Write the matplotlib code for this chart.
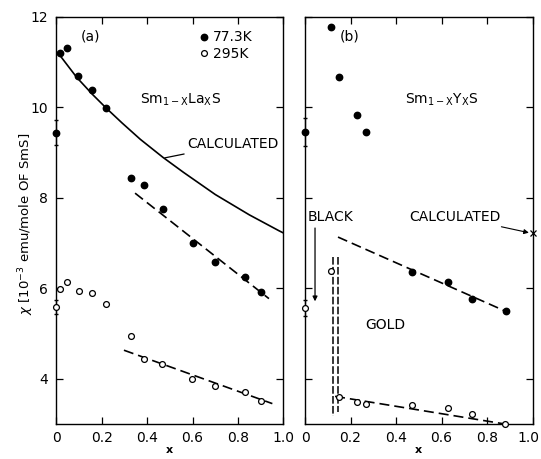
import numpy as np
import matplotlib
matplotlib.use('Agg')
import matplotlib.pyplot as plt
from matplotlib.lines import Line2D
from matplotlib.transforms import ScaledTranslation

plt.rcParams.update({'font.size': 10, 'font.family': 'DejaVu Sans',
                     'mathtext.fontset': 'dejavusans'})

# (a) Sm1-xLaxS
la_x_77 = [0.0, 0.016, 0.046, 0.094, 0.159, 0.218, 0.328, 0.388, 0.469, 0.60, 0.70, 0.83, 0.90]
la_y_77 = [9.44, 11.19, 11.30, 10.68, 10.37, 9.99, 8.43, 8.28, 7.74, 7.00, 6.59, 6.25, 5.91]
la_x_295 = [0.0, 0.016, 0.049, 0.099, 0.158, 0.218, 0.327, 0.388, 0.467, 0.597, 0.70, 0.829, 0.90]
la_y_295 = [5.58, 5.98, 6.13, 5.94, 5.89, 5.66, 4.95, 4.44, 4.33, 4.00, 3.85, 3.71, 3.50]
la_err = [0.28, 0.15]   # error bars on the x=0 (pure SmS) points

la_calc_x = [0.02, 0.09, 0.16, 0.22, 0.29, 0.37, 0.47, 0.56, 0.70, 0.85, 0.98, 1.0]
la_calc_y = [11.12, 10.66, 10.28, 9.98, 9.65, 9.29, 8.89, 8.56, 8.07, 7.62, 7.27, 7.22]

la_fit77_x = [0.347, 0.936]
la_fit77_y = [8.10, 5.77]
la_fit295_x = [0.298, 0.951]
la_fit295_y = [4.63, 3.45]

# (b) Sm1-xYxS
y_x_77 = [0.0, 0.115, 0.150, 0.230, 0.269, 0.470, 0.629, 0.736, 0.882]
y_y_77 = [9.45, 11.77, 10.66, 9.83, 9.45, 6.36, 6.13, 5.77, 5.49]
y_x_295 = [0.0, 0.115, 0.150, 0.230, 0.269, 0.470, 0.629, 0.736, 0.878]
y_y_295 = [5.56, 6.37, 3.59, 3.49, 3.44, 3.41, 3.36, 3.21, 3.00]
y_err = [0.30, 0.17]

y_fit77_x = [0.145, 0.882]
y_fit77_y = [7.13, 5.49]
y_fit295_x = [0.132, 0.878]
y_fit295_y = [3.61, 3.00]

# black/gold boundary (double dashed lines)
bound_x = [0.125, 0.144]
bound_top = [6.70, 6.70]
bound_bot = [3.17, 3.27]

y_calc = (1.0, 7.22)

xticks = [0, 0.2, 0.4, 0.6, 0.8, 1.0]
xticklabels = ['0', '0.2', '0.4', '0.6', '0.8', '1.0']
yticks = [4, 6, 8, 10, 12]

fig = plt.figure(figsize=(5.41, 4.59), dpi=100)
ax1 = fig.add_axes([0.1039, 0.0763, 0.4201, 0.8874])
ax2 = fig.add_axes([0.5638, 0.0763, 0.4205, 0.8874])

dash = (0, (6, 3))
ms_f = 4.6
ms_o = 4.2

for ax in (ax1, ax2):
    ax.set_xlim(0, 1.0)
    ax.set_ylim(3, 12)
    ax.set_xticks(xticks)
    ax.set_xticklabels(xticklabels)
    ax.set_yticks(yticks)
    ax.tick_params(direction='in', top=True, right=True, length=5, width=0.9)
    ax.tick_params(axis='x', pad=5)
    ax.tick_params(axis='y', pad=6)
    for s in ax.spines.values():
        s.set_linewidth(1.0)
    ax.set_xlabel('x', fontsize=8, fontweight='bold', labelpad=0)

# ---- panel (a)
ax1.plot(la_calc_x, la_calc_y, color='k', lw=1.2)
ax1.plot(la_fit77_x, la_fit77_y, color='k', lw=1.2, ls=dash)
ax1.plot(la_fit295_x, la_fit295_y, color='k', lw=1.2, ls=dash)
ax1.plot(la_x_77, la_y_77, 'o', color='k', ms=ms_f, clip_on=False, zorder=5)
ax1.plot(la_x_295, la_y_295, 'o', mfc='white', mec='k', mew=0.9, ms=ms_o, clip_on=False, zorder=5)
ax1.errorbar([la_x_77[0], la_x_295[0]], [la_y_77[0], la_y_295[0]], yerr=la_err,
             fmt='none', ecolor='k', elinewidth=0.9, capsize=1.5, clip_on=False)

ax1.text(0.149, 11.56, '(a)', ha='center', va='center', fontsize=10)
ax1.text(0.368, 10.16, r'Sm$_{\mathregular{1-X}}$La$_{\mathregular{X}}$S', ha='left', va='center', fontsize=10)
ax1.annotate('CALCULATED', xy=(0.478, 8.88), xytext=(0.575, 9.18), ha='left', va='center',
             fontsize=10, arrowprops=dict(arrowstyle='-', color='k', lw=0.9, shrinkA=0, shrinkB=0))

handles = [Line2D([], [], ls='none', marker='o', color='k', ms=ms_f),
           Line2D([], [], ls='none', marker='o', mfc='white', mec='k', mew=0.9, ms=ms_o)]
ax1.legend(handles, ['77.3K', '295K'], loc='upper left', bbox_to_anchor=(0.59, 0.99),
           frameon=False, handlelength=0.6, handletextpad=0.3, labelspacing=0.15,
           borderpad=0.2, fontsize=10)

ax1.set_ylabel(r'$\chi$ [10$^{-3}$ emu/mole OF SmS]', fontsize=9.5)
ax1.yaxis.set_label_coords(-0.09, 0.49)

# ---- panel (b)
ax2.set_yticklabels([])
ax2.plot(y_fit77_x, y_fit77_y, color='k', lw=1.2, ls=dash)
ax2.plot(y_fit295_x, y_fit295_y, color='k', lw=1.2, ls=dash)
for bx, bt, bb in zip(bound_x, bound_top, bound_bot):
    ax2.plot([bx, bx], [bt, bb], color='k', lw=1.1, ls=(0, (5, 1.5)))
ax2.plot(y_x_77, y_y_77, 'o', color='k', ms=ms_f, clip_on=False, zorder=5)
ax2.plot(y_x_295, y_y_295, 'o', mfc='white', mec='k', mew=0.9, ms=ms_o, clip_on=False, zorder=5)
ax2.errorbar([y_x_77[0], y_x_295[0]], [y_y_77[0], y_y_295[0]], yerr=y_err,
             fmt='none', ecolor='k', elinewidth=0.9, capsize=1.5, clip_on=False)
ax2.plot([y_calc[0]], [y_calc[1]], 'x', color='k', ms=4, mew=0.9, clip_on=False, zorder=5)

ax2.text(0.198, 11.57, '(b)', ha='center', va='center', fontsize=10)
ax2.text(0.44, 10.16, r'Sm$_{\mathregular{1-X}}$Y$_{\mathregular{X}}$S', ha='left', va='center', fontsize=10)
ax2.text(0.013, 7.58, 'BLACK', ha='left', va='center', fontsize=10)
ax2.annotate('', xy=(0.044, 5.71), xytext=(0.044, 7.33),
             arrowprops=dict(arrowstyle='-|>', color='k', lw=0.9, mutation_scale=7, shrinkA=0, shrinkB=0))
ax2.text(0.352, 5.19, 'GOLD', ha='center', va='center', fontsize=10)
ax2.annotate('CALCULATED', xy=(0.99, 7.22), xytext=(0.859, 7.58), ha='right', va='center',
             fontsize=10, arrowprops=dict(arrowstyle='-|>', color='k', lw=0.8, mutation_scale=7,
                                          shrinkA=1, shrinkB=1))

# keep the last "1.0" inside the figure
last = ax2.get_xticklabels()[-1]
last.set_transform(last.get_transform() + ScaledTranslation(-3 / 72, 0, fig.dpi_scale_trans))

fig.savefig('out.png', dpi=100)
